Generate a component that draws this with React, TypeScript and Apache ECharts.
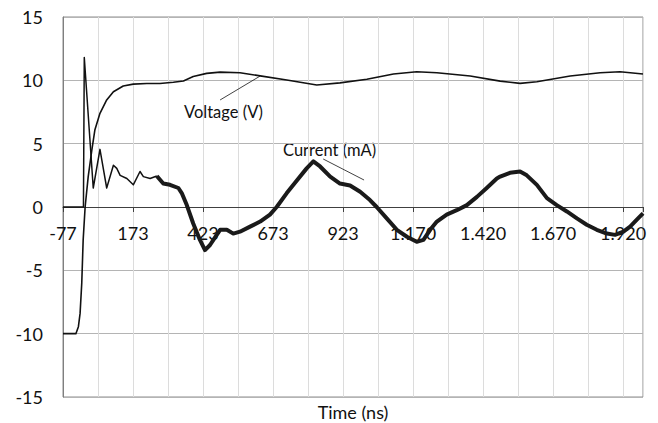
import React, { useEffect, useRef } from "react";
import * as echarts from "echarts";

// Time axis (ns)
const X_MIN_NS = -77;
const X_MAX_NS = 1994;
const X_LABEL_STEP = 250;
const X_GRID_STEP = 125;
const X_TICK_LABELS = ["-77", "173", "423", "673", "923", "1.170", "1.420", "1.670", "1.920"];

// Value axis
const Y_MIN = -15;
const Y_MAX = 15;
const Y_STEP = 5;

// Voltage (V) trace
const VOLTAGE_T = [-77, -31, -22, -16, -10, -5, 2, 13, 26, 37, 55, 79, 103, 138, 174, 222, 269, 317, 353, 388, 436, 484, 555, 627, 722, 829, 912, 1008, 1103, 1186, 1258, 1377, 1484, 1555, 1615, 1734, 1841, 1912, 1994];
const VOLTAGE_V = [-10, -10, -9.45, -8.4, -6.0, -2.6, 0, 2.4, 4.5, 6.1, 7.4, 8.45, 9.1, 9.55, 9.7, 9.75, 9.75, 9.85, 9.95, 10.3, 10.55, 10.65, 10.6, 10.35, 10.03, 9.63, 9.8, 10.08, 10.5, 10.68, 10.6, 10.34, 9.94, 9.76, 9.89, 10.34, 10.6, 10.68, 10.5];

// Current (mA) trace
const CURRENT_T = [-77, -4, -1, 31, 55, 79, 103, 115, 127, 151, 174, 198, 210, 234, 258, 281, 305, 335, 347, 365, 388, 412, 430, 448, 460, 484, 508, 531, 555, 591, 627, 662, 686, 722, 758, 793, 817, 841, 877, 912, 948, 984, 1019, 1043, 1079, 1115, 1151, 1186, 1210, 1234, 1258, 1293, 1329, 1365, 1401, 1436, 1472, 1484, 1519, 1555, 1579, 1615, 1651, 1686, 1722, 1758, 1793, 1829, 1865, 1894, 1924, 1948, 1972, 1994];
const CURRENT_V = [0, 0, 11.8, 1.5, 4.55, 1.5, 3.3, 3.05, 2.5, 2.25, 1.75, 2.8, 2.4, 2.25, 2.45, 1.85, 1.75, 1.5, 1.1, 0.15, -1.3, -2.6, -3.4, -3.0, -2.6, -1.8, -1.8, -2.1, -1.95, -1.55, -1.15, -0.6, 0, 1.1, 2.1, 3.05, 3.6, 3.2, 2.4, 1.85, 1.7, 1.2, 0.55, 0, -0.9, -1.8, -2.35, -2.75, -2.6, -1.8, -1.15, -0.6, -0.25, 0.15, 0.8, 1.5, 2.25, 2.4, 2.7, 2.8, 2.5, 1.75, 0.7, 0.15, -0.35, -0.9, -1.4, -1.8, -2.1, -2.2, -1.95, -1.55, -1.0, -0.5];
const CURRENT_NOISY_FROM_NS = 258;

// Annotation leader lines, in data coordinates [ns, value]
const VOLTAGE_LEADER = [[484, 8.45], [627, 10.34]];
const CURRENT_LEADER = [[852, 3.79], [998, 2.13]];

const FONT = "Lato";

const GRID_TOP = 17;
const GRID_BOTTOM = 26;
const CHART_H = 423;

export default function App() {
  const ref = useRef<HTMLDivElement>(null);

  useEffect(() => {
    document.body.style.margin = "0";
    if (!ref.current) return;
    const chart = echarts.init(ref.current, null, { renderer: "svg" });

    const toX = (t: number) => t - X_MIN_NS;
    const span = X_MAX_NS - X_MIN_NS;

    const voltage = VOLTAGE_T.map((t, i) => [toX(t), VOLTAGE_V[i]]);
    const currentAll = CURRENT_T.map((t, i) => [toX(t), CURRENT_V[i]]);
    const splitIdx = CURRENT_T.findIndex((t) => t >= CURRENT_NOISY_FROM_NS);
    const currentClean = currentAll.slice(0, splitIdx + 1);
    const currentNoisy = currentAll.slice(splitIdx);

    const labelFor = (v: number) => {
      const i = v / X_LABEL_STEP;
      const r = Math.round(i);
      if (Math.abs(i - r) < 1e-6 && r >= 0 && r < X_TICK_LABELS.length) return X_TICK_LABELS[r];
      return "";
    };

    // raise the x axis from the grid bottom to the y = 0 line
    const plotH = CHART_H - GRID_TOP - GRID_BOTTOM;
    const zeroOffset = -plotH * ((0 - Y_MIN) / (Y_MAX - Y_MIN));

    const leader = (pts: number[][]) => ({
      silent: true,
      symbol: "none",
      label: { show: false },
      lineStyle: { color: "#111", width: 0.8, type: "solid" },
      data: [[{ coord: [toX(pts[0][0]), pts[0][1]] }, { coord: [toX(pts[1][0]), pts[1][1]] }]],
    });

    chart.setOption({
      animation: false,
      grid: {
        left: 63,
        top: GRID_TOP,
        right: 15,
        bottom: GRID_BOTTOM,
        show: true,
        borderColor: "#8c8c8c",
        borderWidth: 1,
      },
      xAxis: [
        {
          type: "value",
          min: 0,
          max: span,
          interval: X_GRID_STEP,
          position: "bottom",
          offset: zeroOffset,
          axisLine: { show: true, onZero: false, lineStyle: { color: "#404040", width: 1 } },
          axisTick: { show: false },
          axisLabel: {
            formatter: labelFor,
            fontFamily: FONT,
            fontSize: 18,
            color: "#111",
            margin: 17,
            showMinLabel: true,
            showMaxLabel: false,
          },
          splitLine: { show: true, lineStyle: { color: "#dcdcdc", width: 1 } },
        },
        {
          type: "value",
          min: 0,
          max: span,
          interval: X_LABEL_STEP,
          position: "bottom",
          offset: zeroOffset,
          axisLine: { show: false, onZero: false },
          axisTick: { show: true, length: 5, lineStyle: { color: "#404040" } },
          axisLabel: { show: false },
          splitLine: { show: false },
        },
      ],
      yAxis: {
        type: "value",
        min: Y_MIN,
        max: Y_MAX,
        interval: Y_STEP,
        axisLine: { show: true, onZero: false, lineStyle: { color: "#7f7f7f" } },
        axisTick: { show: false },
        axisLabel: { fontFamily: FONT, fontSize: 18, color: "#111", margin: 20 },
        splitLine: { show: true, lineStyle: { color: "#b4b4b4", width: 1 } },
      },
      series: [
        {
          name: "Voltage (V)",
          type: "line",
          data: voltage,
          showSymbol: false,
          lineStyle: { color: "#111", width: 1.6, join: "round" },
          markLine: leader(VOLTAGE_LEADER),
        },
        {
          name: "Current (mA)",
          type: "line",
          data: currentClean,
          showSymbol: false,
          lineStyle: { color: "#111", width: 1.5, join: "round" },
        },
        {
          name: "Current (mA) ",
          type: "line",
          data: currentNoisy,
          showSymbol: false,
          lineStyle: { color: "#1a1a1a", width: 4, join: "round" },
          markLine: leader(CURRENT_LEADER),
        },
      ],
      graphic: [
        {
          type: "text",
          style: { x: 184, y: 112, text: "Voltage (V)", fontFamily: FONT, fontSize: 16.5, fill: "#111", verticalAlign: "middle" },
        },
        {
          type: "text",
          style: { x: 283, y: 150, text: "Current (mA)", fontFamily: FONT, fontSize: 16.5, fill: "#111", verticalAlign: "middle" },
        },
        {
          type: "text",
          style: { x: 353, y: 412, text: "Time (ns)", fontFamily: FONT, fontSize: 18, fill: "#111", align: "center", verticalAlign: "middle" },
        },
      ],
    });

    return () => chart.dispose();
  }, []);

  return <div ref={ref} style={{ width: 658, height: 423 }} />;
}
